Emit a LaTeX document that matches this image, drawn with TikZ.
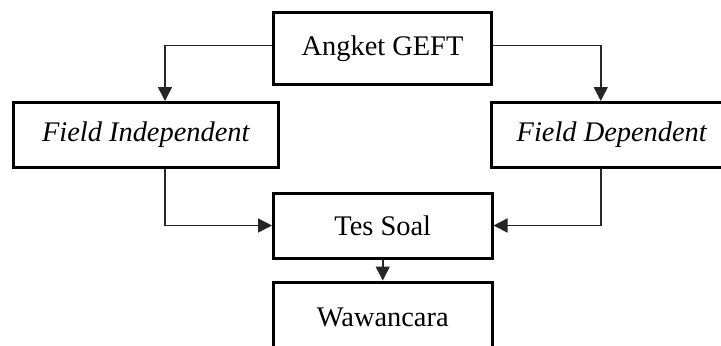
\documentclass[tikz,border=0pt]{standalone}
\usepackage{fontspec}
\setmainfont{Liberation Serif}
\usetikzlibrary{arrows.meta,calc}
\begin{document}
\begin{tikzpicture}[x=0.5pt,y=-0.5pt,
  box/.style={draw=black,line width=1.5pt,rectangle,inner sep=0pt,align=center,
    font=\fontsize{14.2}{17}\selectfont},
  conn/.style={draw=black!85,line width=0.75pt,-{Triangle[length=7pt,width=7pt]}}]
\useasboundingbox (0,0) rectangle (721,345);
\node[box,minimum width=109pt,minimum height=35.75pt] (ang) at (382.5,48.25) {Angket GEFT};
\node[box,minimum width=132.25pt,minimum height=32.5pt] (fi) at (145.75,135) {\itshape Field Independent};
\node[box,minimum width=120.25pt,minimum height=32.5pt] (fd) at (611.75,135) {\itshape Field Dependent};
\node[box,minimum width=109.25pt,minimum height=32.5pt] (tes) at (382.75,225.5) {Tes Soal};
\node[box,minimum width=109.25pt,minimum height=35.5pt] (waw) at (382.75,317.5) {Wawancara};
\draw[conn] ($(ang.west)+(0,-3)$) -| ($(fi.north)+(19.25,0)$);
\draw[conn] ($(ang.east)+(0,-3)$) -| ($(fd.north)+(-11,0)$);
\draw[conn] ($(fi.south)+(19.25,0)$) |- (tes.west);
\draw[conn] ($(fd.south)+(-11,0)$) |- (tes.east);
\draw[conn] (tes.south) -- (waw.north);
\end{tikzpicture}
\end{document}
